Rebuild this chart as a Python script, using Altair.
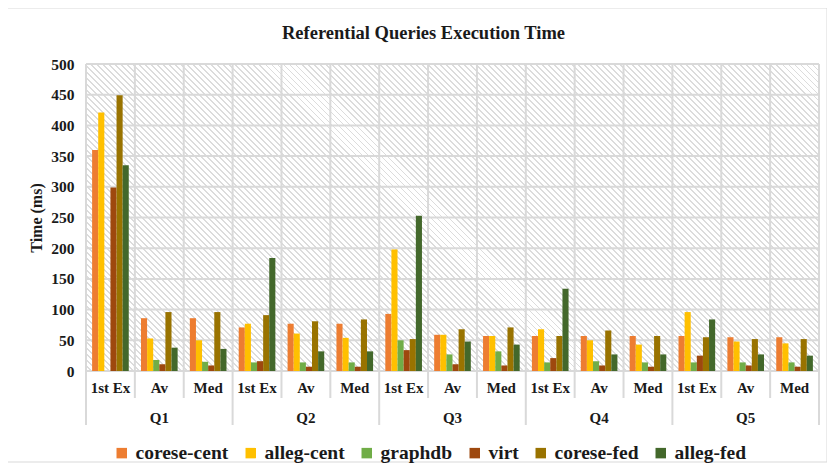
import altair as alt
import pandas as pd

FONT = "Liberation Serif"
TXT = "#1a1a1a"
GRID = "#d9d9d9"

queries = ["Q1", "Q2", "Q3", "Q4", "Q5"]
metrics = ["1st Ex", "Av", "Med"]
series = ["corese-cent", "alleg-cent", "graphdb", "virt", "corese-fed", "alleg-fed"]
colors = ["#ED7D31", "#FFC000", "#70AD47", "#9E480E", "#997300", "#43682B"]
title_text = "Referential Queries Execution Time"

# values ordered Q1(1st Ex, Av, Med), Q2(...), ..., Q5(...)
corese_cent = [360, 86, 86, 71, 77, 77, 93, 59, 57, 57, 57, 57, 57, 55, 55]
alleg_cent = [421, 53, 50, 77, 61, 54, 198, 59, 57, 68, 50, 43, 96, 48, 45]
graphdb = [0, 18, 15, 14, 14, 14, 50, 27, 32, 14, 16, 14, 14, 14, 14]
virt = [299, 11, 9, 16, 7, 7, 34, 11, 9, 21, 9, 7, 25, 9, 7]
corese_fed = [449, 96, 96, 91, 81, 84, 52, 68, 71, 57, 66, 57, 55, 52, 52]
alleg_fed = [335, 38, 36, 184, 32, 32, 253, 48, 43, 134, 27, 27, 84, 27, 25]

y_ticks = [0, 50, 100, 150, 200, 250, 300, 350, 400, 450, 500]

all_vals = [corese_cent, alleg_cent, graphdb, virt, corese_fed, alleg_fed]
keys = [f"{q}|{m}" for q in queries for m in metrics]

rows = []
for s, vals in zip(series, all_vals):
    for k, v in zip(keys, vals):
        rows.append({"key": k, "series": s, "value": v})
bars_df = pd.DataFrame(rows)

W, H = 733, 307

xscale = alt.Scale(domain=keys, paddingInner=0, paddingOuter=0)
xaxis = alt.Axis(title=None, labelExpr="split(datum.label, '|')[1]", domain=False,
                 ticks=False, grid=False, labelFont=FONT, labelFontWeight="bold",
                 labelFontSize=15, labelColor=TXT, labelPadding=9, labelAngle=0)
yscale = alt.Scale(domain=[0, 500], nice=False)
yaxis = alt.Axis(title="Time (ms)", values=y_ticks, grid=False, domain=False, ticks=False,
                 labelFont=FONT, labelFontWeight="bold", labelFontSize=15.5, labelColor=TXT,
                 labelPadding=12, titleFont=FONT, titleFontSize=16, titleFontWeight="bold",
                 titleColor=TXT, titlePadding=6)

# diagonal hatch background via hard-stop gradient (bbox = plot area, skew-compensated)
r = H / W
s = (1 + r) / (1 + r * r)
N = 173
stops = []
for i in range(N):
    a = i / N
    b = (i + 0.68) / N
    c = (i + 1) / N
    stops += [alt.GradientStop(offset=round(a, 6), color="#ffffff"),
              alt.GradientStop(offset=round(b, 6), color="#ffffff"),
              alt.GradientStop(offset=round(b, 6), color="#dcdcdc"),
              alt.GradientStop(offset=round(c, 6), color="#dcdcdc")]
hatch_fill = alt.LinearGradient(gradient="linear", stops=stops,
                                x1=0, y1=1, x2=round(s, 5), y2=round(1 - s * r, 5))

one = pd.DataFrame({"a": [0]})
hatch = alt.Chart(one).mark_rect(fill=hatch_fill).encode(
    x=alt.value(0), x2=alt.value(W), y=alt.value(0), y2=alt.value(H))

hgrid = alt.Chart(pd.DataFrame({"v": y_ticks})).mark_rule(color=GRID, strokeWidth=2).encode(
    y=alt.Y("v:Q", scale=yscale, axis=yaxis), x=alt.value(0), x2=alt.value(W))

short_keys = [k for k in keys if not k.endswith("1st Ex")]
long_keys = [k for k in keys if k.endswith("1st Ex")]

vshort = alt.Chart(pd.DataFrame({"key": short_keys})).mark_rule(color=GRID, strokeWidth=2).encode(
    x=alt.X("key:N", scale=xscale, axis=xaxis, bandPosition=0),
    y=alt.value(0), y2=alt.value(H + 27))
vlong = alt.Chart(pd.DataFrame({"key": long_keys})).mark_rule(color=GRID, strokeWidth=2).encode(
    x=alt.X("key:N", scale=xscale, axis=xaxis, bandPosition=0),
    y=alt.value(0), y2=alt.value(H + 54))
vend = alt.Chart(pd.DataFrame({"key": [keys[-1]]})).mark_rule(color=GRID, strokeWidth=2).encode(
    x=alt.X("key:N", scale=xscale, axis=xaxis, bandPosition=1),
    y=alt.value(0), y2=alt.value(H + 54))

bars = alt.Chart(bars_df).mark_bar().encode(
    x=alt.X("key:N", scale=xscale, axis=xaxis),
    xOffset=alt.XOffset("series:N", sort=series,
                        scale=alt.Scale(domain=series, paddingInner=0, paddingOuter=1)),
    y=alt.Y("value:Q", scale=yscale, axis=yaxis),
    color=alt.Color("series:N", sort=series,
                    scale=alt.Scale(domain=series, range=colors),
                    legend=alt.Legend(title=None, orient="none", legendX=26, legendY=379,
                                      direction="horizontal", columns=6, symbolType="square",
                                      symbolSize=110, symbolStrokeWidth=0, labelFont=FONT,
                                      labelFontSize=19.5, labelFontWeight="bold", labelColor=TXT,
                                      columnPadding=12, labelOffset=4, padding=0)),
)

qlab_df = pd.DataFrame({"key": [f"{q}|Av" for q in queries], "q": queries})
qlabels = alt.Chart(qlab_df).mark_text(font=FONT, fontSize=15, fontWeight="bold",
                                       color=TXT, baseline="middle").encode(
    x=alt.X("key:N", scale=xscale, axis=xaxis), y=alt.value(H + 47), text="q:N")

title = alt.Chart(pd.DataFrame({"t": [title_text]})).mark_text(
    font=FONT, fontSize=18.5, fontWeight="bold", color=TXT, baseline="middle", align="center"
).encode(x=alt.value(W / 2 - 29), y=alt.value(-31), text="t:N")

border = alt.Chart(one).mark_rect(fillOpacity=0, stroke=GRID, strokeWidth=1).encode(
    x=alt.value(-79), x2=alt.value(741), y=alt.value(-56), y2=alt.value(398))

chart = alt.layer(hatch, hgrid, vshort, vlong, vend, bars, qlabels, title, border).properties(
    width=W, height=H,
    autosize=alt.AutoSizeParams(type="none"),
    padding={"left": 78, "top": 56, "right": 8, "bottom": 92},
).configure(background="white", font=FONT).configure_view(stroke=None).configure_legend(
    labelFont=FONT, labelFontWeight="bold", labelFontSize=19.5, labelColor=TXT)

chart.save("out.html", embed_options={"renderer": "svg", "actions": False})
